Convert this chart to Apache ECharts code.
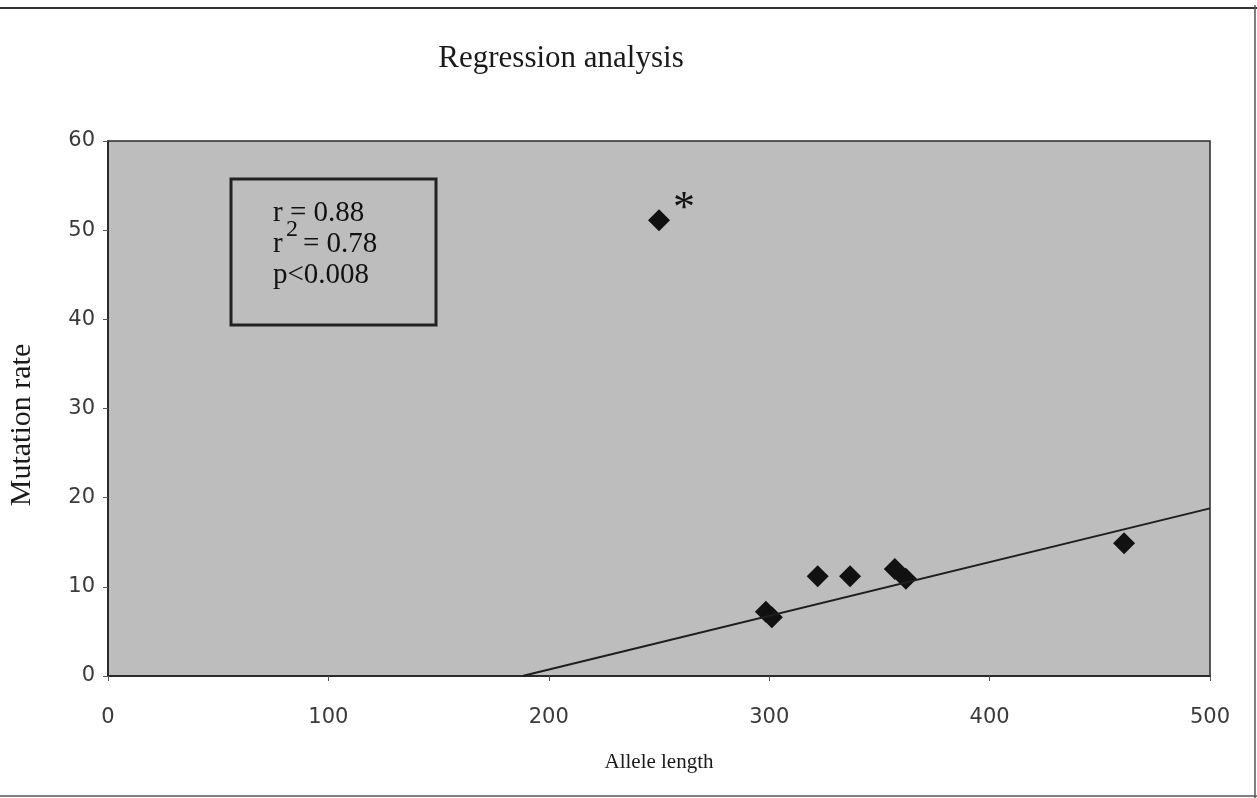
<!DOCTYPE html>
<html>
<head>
<meta charset="utf-8">
<script src="https://cdn.jsdelivr.net/npm/echarts@6/dist/echarts.min.js"></script>
<style>html,body{margin:0;padding:0;background:#fff}#c{width:1257px;height:798px}</style>
</head>
<body>
<div id="c"></div>
<script>
var alleleLength = [250, 298.5, 301.2, 322, 336.7, 357, 362, 461];
var mutationRate = [51.1, 7.2, 6.6, 11.2, 11.2, 12.0, 10.9, 14.9];
var fitLineX = [188, 500];
var fitLineY = [0, 18.8];
var xTicks = [0, 100, 200, 300, 400, 500];
var yTicks = [0, 10, 20, 30, 40, 50, 60];
var statsR = 'r = 0.88';
var statsR2 = '= 0.78';
var statsP = 'p<0.008';

var points = alleleLength.map(function (x, i) { return [x, mutationRate[i]]; });
var fit = fitLineX.map(function (x, i) { return [x, fitLineY[i]]; });

var chart = echarts.init(document.getElementById('c'));
var serif = '"Liberation Serif", "DejaVu Serif", serif';
var sans = '"DejaVu Sans", "Noto Sans", sans-serif';
chart.setOption({
  backgroundColor: '#ffffff',
  animation: false,
  title: {
    text: 'Regression analysis',
    left: 556, top: 38, textAlign: 'center',
    textStyle: { fontFamily: serif, fontSize: 31, fontWeight: 'normal', color: '#1a1a1a' }
  },
  grid: { left: 108, top: 141, right: 47, bottom: 122, show: true, backgroundColor: '#bdbdbd', borderColor: '#2a2a2a', borderWidth: 1.5 },
  xAxis: {
    type: 'value', min: xTicks[0], max: xTicks[xTicks.length - 1], interval: 100,
    name: 'Allele length', nameLocation: 'middle', nameGap: 76,
    nameTextStyle: { fontFamily: serif, fontSize: 21, color: '#1a1a1a' },
    axisLine: { show: true, lineStyle: { color: '#2a2a2a', width: 2 } },
    axisTick: { show: true, length: 5, lineStyle: { color: '#555' } },
    axisLabel: { margin: 31, fontFamily: sans, fontSize: 21, color: '#3a3a3a' },
    splitLine: { show: false }
  },
  yAxis: {
    type: 'value', min: yTicks[0], max: yTicks[yTicks.length - 1], interval: 10,
    axisLine: { show: true, lineStyle: { color: '#2a2a2a', width: 2 } },
    axisTick: { show: true, length: 5, lineStyle: { color: '#555' } },
    axisLabel: { margin: 13, fontFamily: sans, fontSize: 21, color: '#3a3a3a' },
    splitLine: { show: false }
  },
  series: [
    {
      type: 'line', data: fit, symbol: 'none', lineStyle: { color: '#1e1e1e', width: 2 }, silent: true
    },
    {
      type: 'scatter', data: points.map(function (p, i) {
        var d = { value: p };
        if (i === 0) {
          d.label = { show: true, formatter: '*', position: [25, -22], fontFamily: serif, fontSize: 44, color: '#111' };
        }
        return d;
      }),
      symbol: 'diamond', symbolSize: 22, itemStyle: { color: '#111', opacity: 1 }
    }
  ],
  graphic: [
    { type: 'text', x: 22, y: 425, rotation: Math.PI / 2, style: { text: 'Mutation rate', font: '30px ' + serif, fill: '#1a1a1a', textAlign: 'center', textVerticalAlign: 'middle' } },
    { type: 'rect', shape: { x: 231, y: 179, width: 205, height: 146 }, style: { fill: 'none', stroke: '#222', lineWidth: 3 } },
    { type: 'text', x: 273, y: 199, style: { text: statsR, font: '29px ' + serif, fill: '#111' } },
    { type: 'text', x: 273, y: 230, style: { text: 'r', font: '29px ' + serif, fill: '#111' } },
    { type: 'text', x: 286, y: 218, style: { text: '2', font: '24px ' + serif, fill: '#111' } },
    { type: 'text', x: 303, y: 230, style: { text: statsR2, font: '29px ' + serif, fill: '#111' } },
    { type: 'text', x: 273, y: 261, style: { text: statsP, font: '29px ' + serif, fill: '#111' } },
    { type: 'line', shape: { x1: 0, y1: 8, x2: 1257, y2: 8 }, style: { stroke: '#333', lineWidth: 2 } },
    { type: 'line', shape: { x1: 1255, y1: 5, x2: 1255, y2: 798 }, style: { stroke: '#555', lineWidth: 1.5 } },
    { type: 'line', shape: { x1: 0, y1: 796, x2: 1257, y2: 796 }, style: { stroke: '#555', lineWidth: 1.5 } }
  ]
});
</script>
</body>
</html>
